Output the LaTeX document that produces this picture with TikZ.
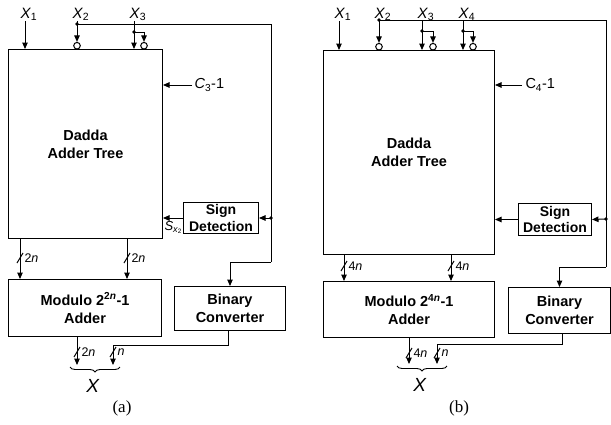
\documentclass[tikz,border=0pt]{standalone}
\usepackage{fontspec}
\setmainfont{Liberation Sans}
\newfontfamily\capfont{Liberation Serif}
\usetikzlibrary{arrows.meta,decorations.pathreplacing}
\begin{document}
\begin{tikzpicture}[x=1pt,y=-1pt,line width=1pt,
  box/.style={draw,anchor=north west,inner sep=0pt,align=center,font=\bfseries\fontsize{14.5}{18}\selectfont},
  sbox/.style={draw,anchor=north west,inner sep=0pt,align=center,font=\bfseries\fontsize{14}{16.5}\selectfont},
  arr/.style={-{Triangle[length=6.5pt,width=5.5pt]}},
  inv/.style={circle,draw,minimum size=6.6pt,inner sep=0pt},
  dot/.style={circle,fill,minimum size=3.8pt,inner sep=0pt},
  inlab/.style={anchor=base west,inner sep=0pt,font=\fontsize{15}{18}\selectfont},
  wlab/.style={anchor=west,inner sep=0pt,font=\fontsize{12.5}{14}\selectfont},
  clab/.style={anchor=west,inner sep=0pt,font=\fontsize{14.5}{17}\selectfont},
  captext/.style={inner sep=0pt,font=\capfont\fontsize{17}{20}\selectfont},
  xlab/.style={inner sep=0pt,font=\fontsize{19}{22}\selectfont},
  brc/.style={decorate,decoration={brace,mirror,amplitude=5pt},line width=0.9pt}
]
\useasboundingbox (0,0) rectangle (611,424);
% ================= (a) =================
\node[box,minimum width=154pt,minimum height=189pt] (dadA) at (8,49) {Dadda\\Adder Tree};
\node[box,minimum width=153pt,minimum height=57pt] (modA) at (8,279) {Modulo 2\textsuperscript{2\textit{n}}-1\\Adder};
\node[box,minimum width=111pt,minimum height=44pt] (binA) at (174,286) {Binary\\Converter};
\node[sbox,minimum width=75pt,minimum height=31pt] (sigA) at (183,202) {Sign\\Detection};
% inputs
\node[inlab] (x1a) at (20,18) {\textit{X}\textsubscript{1}};
\node[inlab] (x2a) at (72,18) {\textit{X}\textsubscript{2}};
\node[inlab] (x3a) at (129,18) {\textit{X}\textsubscript{3}};
\coordinate (x1as) at (25,21);
\draw[arr] (x1as) -- (x1as |- dadA.north);
\node[inv] (c2a) at (77,45.7) {};
\node[dot] (d2a) at (77,24) {};
\coordinate (x2as) at (77,21);
\draw[arr] (x2as) -- (c2a.north);
\coordinate (x3as) at (134,21);
\draw[arr] (x3as) -- (x3as |- dadA.north);
\node[dot] (d3a) at (134,32) {};
\node[inv] (c3a) at (144,45.7) {};
\draw[arr] (d3a.center) -| (c3a.north);
% feedback line
\coordinate (ra1) at (271,24);
\node[dot] (dsa) at (271,218) {};
\coordinate (ra2) at (271,262);
\draw (d2a.center) -- (ra1) -- (ra2);
\draw[arr] (ra2) -| (binA.north);
\draw[arr] (dsa.center) -- (sigA.east);
\draw[arr] (sigA.west) -- (sigA.west -| dadA.east);
\node[anchor=north west,inner sep=0pt,font=\fontsize{13}{15}\selectfont] (sxa) at (164,221) {\textit{S}\textsubscript{\textit{x}\textsubscript{2}}};
% C3-1
\coordinate (c3s) at (192,85);
\draw[arr] (c3s) -- (c3s -| dadA.east);
\node[clab] (c3l) at (194,85) {\textit{C}\textsubscript{3}-1};
% 2n buses
\foreach \xx in {20,127}{
  \draw[arr] (\xx,238) -- (\xx,279);
  \draw (\xx-3,263) -- (\xx+3,253);
  \node[wlab] at (\xx+4,258) {2\textit{n}};
}
% outputs
\coordinate (oa1) at (77,365);
\draw[arr] (modA.south -| oa1) -- (oa1);
\draw (74,357) -- (80,347);
\node[wlab] at (81,352) {2\textit{n}};
\coordinate (oa2) at (228,345);
\coordinate (oa3) at (113,345);
\coordinate (oa4) at (113,365);
\draw[arr] (binA.south -| oa2) -- (oa2) -- (oa3) -- (oa4);
\draw (110,357) -- (116,347);
\node[wlab] at (117,352) {\textit{n}};
\draw[brc] (70,367) -- (120,367);
\node[xlab] (Xa) at (93,386) {\textit{X}};
\node[captext] (capa) at (122,408) {(a)};
% ================= (b) =================
\node[box,minimum width=171pt,minimum height=204pt] (dadB) at (323,50) {Dadda\\Adder Tree};
\node[box,minimum width=171pt,minimum height=56pt] (modB) at (323,281) {Modulo 2\textsuperscript{4\textit{n}}-1\\Adder};
\node[box,minimum width=102pt,minimum height=46pt] (binB) at (508,287) {Binary\\Converter};
\node[sbox,minimum width=73pt,minimum height=32pt] (sigB) at (518,203) {Sign\\Detection};
\node[inlab] (x1b) at (334,18) {\textit{X}\textsubscript{1}};
\node[inlab] (x2b) at (374,18) {\textit{X}\textsubscript{2}};
\node[inlab] (x3b) at (417,18) {\textit{X}\textsubscript{3}};
\node[inlab] (x4b) at (458,18) {\textit{X}\textsubscript{4}};
\coordinate (x1bs) at (339,21);
\draw[arr] (x1bs) -- (x1bs |- dadB.north);
\node[inv] (c2b) at (379,46.7) {};
\node[dot] (d2b) at (379,20) {};
\draw[arr] (d2b.center) -- (c2b.north);
\coordinate (x3bs) at (422,21);
\draw[arr] (x3bs) -- (x3bs |- dadB.north);
\node[dot] (d3b) at (422,31) {};
\node[inv] (c3b) at (433,46.7) {};
\draw[arr] (d3b.center) -| (c3b.north);
\coordinate (x4bs) at (463,21);
\draw[arr] (x4bs) -- (x4bs |- dadB.north);
\node[dot] (d4b) at (463,31) {};
\node[inv] (c4b) at (473,46.7) {};
\draw[arr] (d4b.center) -| (c4b.north);
\coordinate (rb1) at (606,20);
\node[dot] (dsb) at (606,219) {};
\coordinate (rb2) at (606,267);
\draw (d2b.center) -- (rb1) -- (rb2);
\draw[arr] (rb2) -| (binB.north);
\draw[arr] (dsb.center) -- (sigB.east);
\draw[arr] (sigB.west) -- (sigB.west -| dadB.east);
\coordinate (c4s) at (522,85);
\draw[arr] (c4s) -- (c4s -| dadB.east);
\node[clab] (c4l) at (525,85) {C\textsubscript{4}-1};
\foreach \xx in {344,451}{
  \draw[arr] (\xx,254) -- (\xx,281);
  \draw (\xx-3,271) -- (\xx+3,261);
  \node[wlab] at (\xx+4,266) {4\textit{n}};
}
\coordinate (ob1) at (409,364);
\draw[arr] (modB.south -| ob1) -- (ob1);
\draw (406,358) -- (412,348);
\node[wlab] at (413,353) {4\textit{n}};
\coordinate (ob2) at (562,344);
\coordinate (ob3) at (437,344);
\coordinate (ob4) at (437,364);
\draw[arr] (binB.south -| ob2) -- (ob2) -- (ob3) -- (ob4);
\draw (434,358) -- (440,348);
\node[wlab] at (441,353) {\textit{n}};
\draw[brc] (397,366) -- (447,366);
\node[xlab] (Xb) at (420,385) {\textit{X}};
\node[captext] (capb) at (459,408) {(b)};
\end{tikzpicture}
\end{document}
